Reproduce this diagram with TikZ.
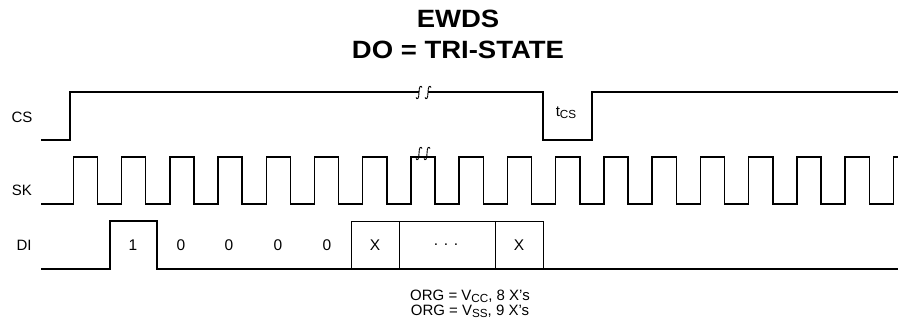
\documentclass[tikz,border=0pt]{standalone}
\usepackage{fontspec}
\usepackage{graphicx}
\setmainfont{Liberation Sans}
\newcommand\lowsub[1]{\raisebox{-0.25ex}{\scalebox{0.78}{#1}}}
\begin{document}
\begin{tikzpicture}[x=1pt,y=-1pt,
  sig/.style={line width=1.5pt, line join=miter},
  boxline/.style={line width=0.9pt},
  brk/.style={line width=0.9pt},
  title/.style={font=\bfseries\fontsize{25}{27}\selectfont, inner sep=0pt},
  lbl/.style={font=\fontsize{15}{17}\selectfont, inner sep=0pt},
  dat/.style={font=\fontsize{15.5}{17}\selectfont, inner sep=0pt},
  note/.style={font=\fontsize{15}{15.5}\selectfont, inner sep=0pt, align=center},
  sq/.pic={\draw[brk] (-3,5) .. controls (-2,7.5) and (0,6.5) .. (0,0) .. controls (0,-6.5) and (2,-7.5) .. (3,-5);}]
\useasboundingbox (0,0) rectangle (898,331);
% titles
\node[title] (t1) at (458,19) {\scalebox{1.1}[1]{EWDS}};
\node[title] (t2) at (458,50) {\scalebox{1.1}[1]{DO = TRI-STATE}};
% signal names
\node[lbl] (cs) at (22,117) {CS};
\node[lbl] (sk) at (22,190) {SK};
\node[lbl] (di) at (24,245) {DI};
% CS
\draw[sig] (41,140) -- (70,140) -- (70,92) -- (419,92);
\draw[sig] (428,92) -- (543,92) -- (543,140) -- (592,140) -- (592,92) -- (898,92);
\pic at (419,92.5) {sq};
\pic at (428,92.5) {sq};
\node[lbl] (tcs) at (566,113) {t\lowsub{CS}};
% SK
\draw[sig] (41,204)
  foreach \k in {0,...,16} { -- ({73.3+48.24*\k},204) -- ({73.3+48.24*\k},157) -- ({97.42+48.24*\k},157) -- ({97.42+48.24*\k},204) }
  -- (893.4,204) -- (893.4,157) -- (898,157);
\pic at (419,153.5) {sq};
\pic at (427,153.5) {sq};
% DI
\draw[sig] (41,269) -- (110,269) -- (110,221) -- (157,221) -- (157,269) -- (898,269);
\draw[boxline] (351,269) -- (351,221) -- (543,221) -- (543,269);
\draw[boxline] (399,221) -- (399,269);
\draw[boxline] (495,221) -- (495,269);
\node[dat] (d1) at (133,245) {1};
\node[dat] (d2) at (181,245) {0};
\node[dat] (d3) at (229,245) {0};
\node[dat] (d4) at (278,245) {0};
\node[dat] (d5) at (327,245) {0};
\node[dat] (x1) at (375,245) {X};
\node[dat] (dots) at (446,245) {. . .};
\node[dat] (x2) at (519,245) {X};
% note
\node[note] (note) at (470,304) {ORG = V\lowsub{CC}, 8 X's\\ORG = V\lowsub{SS}, 9 X's};
\end{tikzpicture}
\end{document}
